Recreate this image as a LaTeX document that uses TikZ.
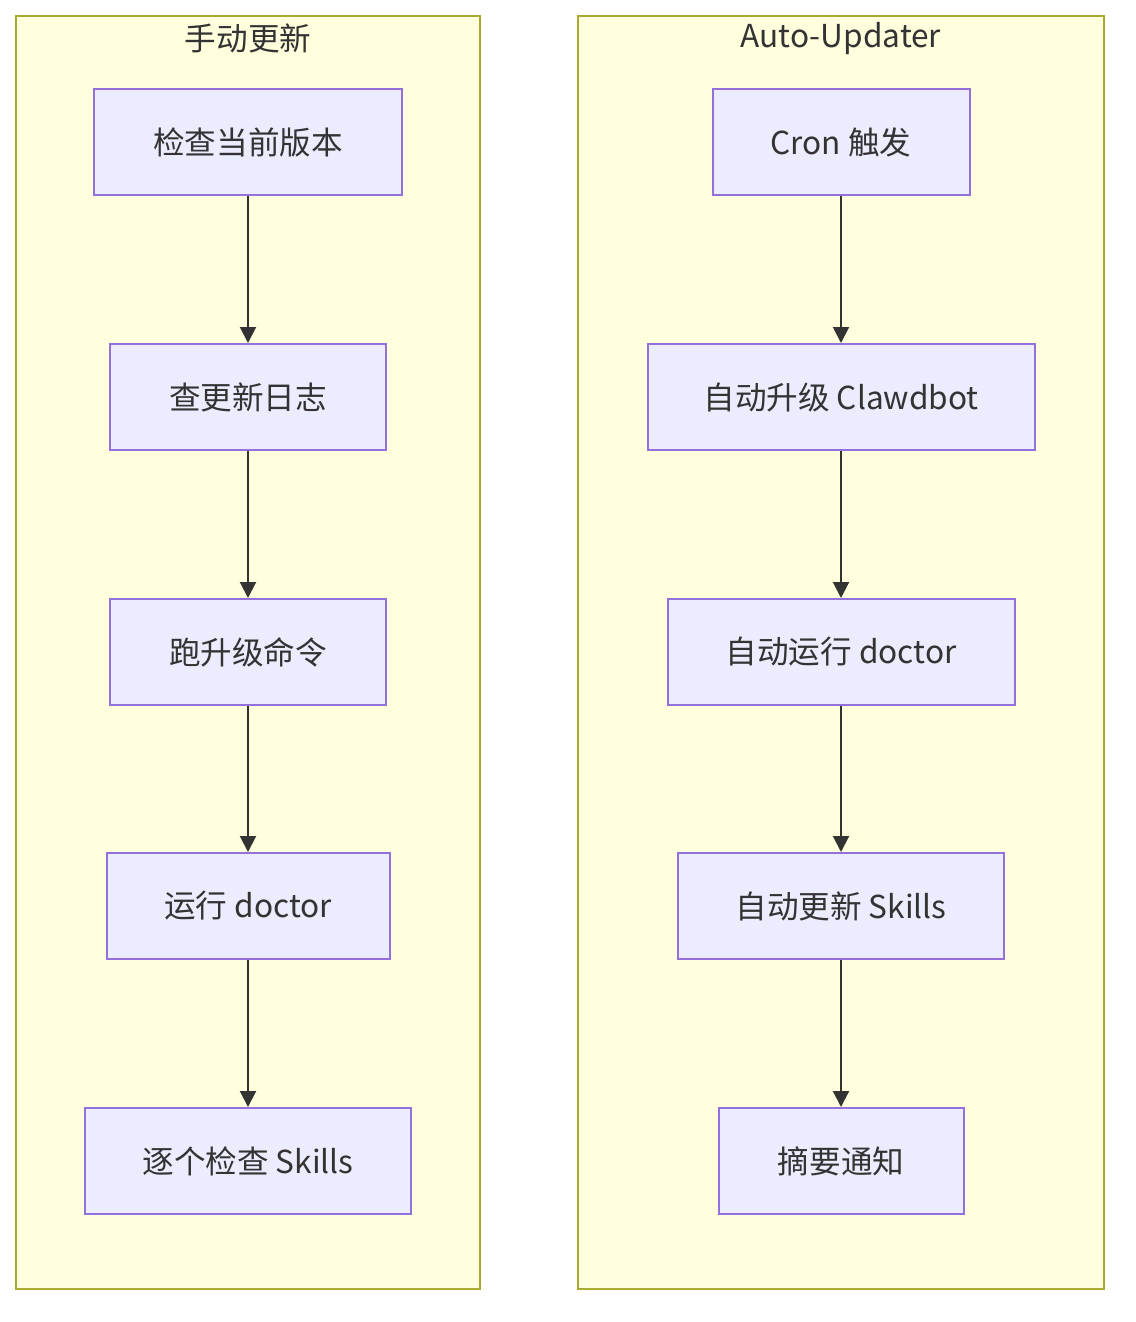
\documentclass[tikz,border=0pt]{standalone}
\usepackage{fontspec}
\setmainfont{Noto Sans CJK SC}
\usetikzlibrary{arrows.meta}
\definecolor{clfill}{HTML}{FFFFDE}
\definecolor{clline}{HTML}{AAAA33}
\definecolor{ndfill}{HTML}{ECECFF}
\definecolor{ndline}{HTML}{9370DB}
\definecolor{txt}{HTML}{333333}
\tikzset{
  cluster/.style={draw=clline, fill=clfill, line width=1.5pt},
  ndbox/.style={draw=ndline, fill=ndfill, line width=1.5pt, text=txt, font=\fontsize{23.7}{28}\selectfont, inner sep=0pt, minimum height=106*0.75pt},
  ttl/.style={text=txt, font=\fontsize{23.7}{28}\selectfont, inner sep=0pt},
  flow/.style={draw=txt, line width=1.5pt, -{Triangle[width=12pt,length=12pt]}},
}
\begin{document}
\begin{tikzpicture}[x=0.75pt,y=-0.75pt]
\useasboundingbox (0,0) rectangle (1136,1322);
\fill[white] (0,0) rectangle (1136,1322);
\draw[cluster] (16,16) rectangle (480,1289);
\draw[cluster] (578,16) rectangle (1104,1289);
\node[ttl] (t1) at (248,38) {手动更新};
\node[ttl] (t2) at (841,39) {Auto-Updater};
\node[ndbox, minimum width=308*0.75pt] (a1) at (248,142) {检查当前版本};
\node[ndbox, minimum width=276*0.75pt] (a2) at (248,397) {查更新日志};
\node[ndbox, minimum width=276*0.75pt] (a3) at (248,652) {跑升级命令};
\node[ndbox, minimum width=283*0.75pt] (a4) at (248,906) {运行 doctor};
\node[ndbox, minimum width=326*0.75pt] (a5) at (248,1161) {逐个检查 Skills};
\node[ndbox, minimum width=257*0.75pt] (b1) at (841,142) {Cron 触发};
\node[ndbox, minimum width=387*0.75pt] (b2) at (841,397) {自动升级 Clawdbot};
\node[ndbox, minimum width=347*0.75pt] (b3) at (841,652) {自动运行 doctor};
\node[ndbox, minimum width=326*0.75pt] (b4) at (841,906) {自动更新 Skills};
\node[ndbox, minimum width=245*0.75pt] (b5) at (841,1161) {摘要通知};
\draw[flow] (a1) -- (a2);
\draw[flow] (a2) -- (a3);
\draw[flow] (a3) -- (a4);
\draw[flow] (a4) -- (a5);
\draw[flow] (b1) -- (b2);
\draw[flow] (b2) -- (b3);
\draw[flow] (b3) -- (b4);
\draw[flow] (b4) -- (b5);
\end{tikzpicture}
\end{document}
